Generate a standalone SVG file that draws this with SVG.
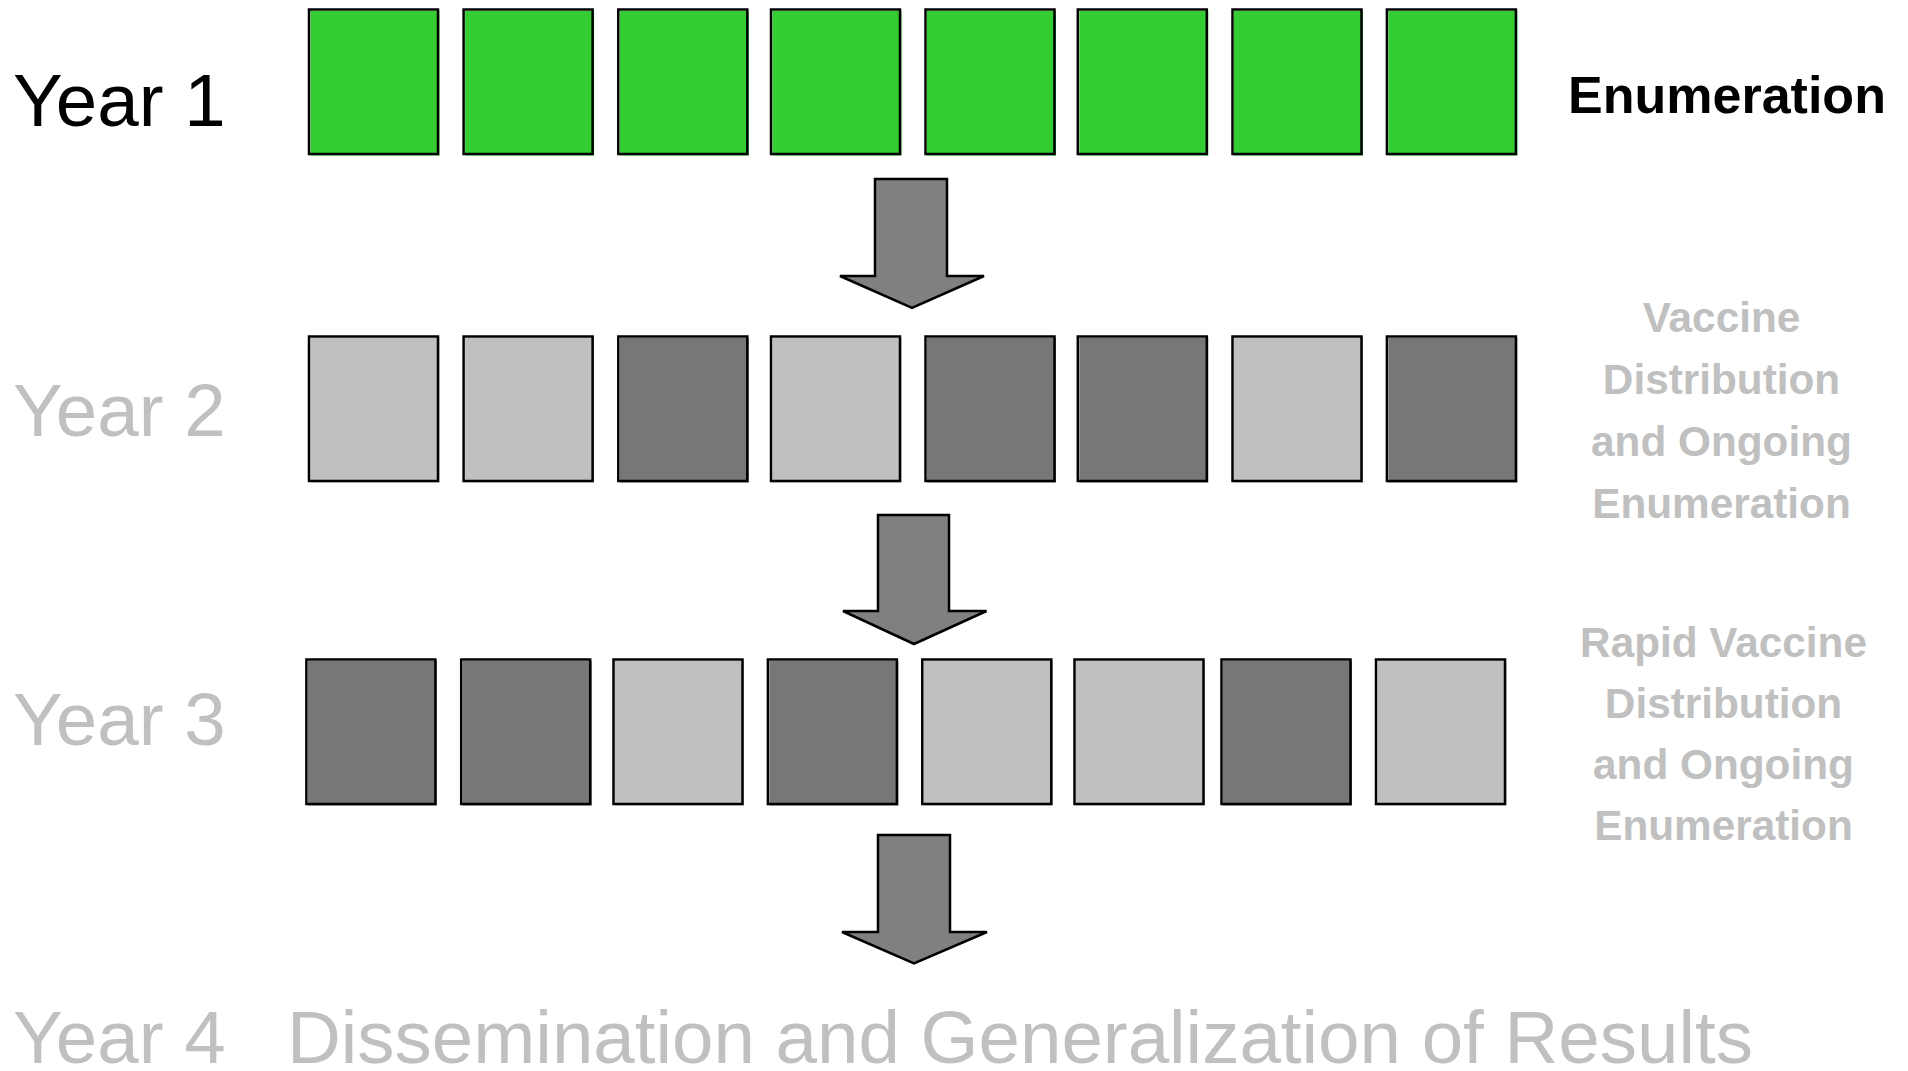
<svg xmlns="http://www.w3.org/2000/svg" width="1908" height="1071" viewBox="0 0 1908 1071">
  <style>
    .year { font-family: "Liberation Sans", Arial, sans-serif; font-size: 74.5px; }
    .note { font-family: "Liberation Sans", Arial, sans-serif; font-weight: bold; font-size: 42.3px; fill: #C0C0C0; text-anchor: middle; }
    .dim { fill: #C0C0C0; }
    .fill-green { fill: #33CC33; }
    .fill-light { fill: #C0C0C0; }
    .fill-dark { fill: #777777; }
    .edge { fill: none; stroke: #000000; stroke-width: 2.5; }
    .arrow { fill: #808080; stroke: #000000; stroke-width: 2.5; stroke-linejoin: miter; }
  </style>
  <defs>
    <!-- one cell: fill sits slightly offset from its outline -->
    <rect id="cellFill" x="1.5" y="1.5" width="129" height="144.5"/>
    <rect id="cellEdge" x="0" y="0" width="129" height="144.5"/>
  </defs>

  <rect width="1908" height="1071" fill="#FFFFFF"/>

  <!-- Year labels -->
  <g id="label-year1"><text class="year" x="13" y="126" fill="#000000">Year 1</text></g>
  <g id="label-year2"><text class="year dim" x="13" y="436">Year 2</text></g>
  <g id="label-year3"><text class="year dim" x="13" y="745">Year 3</text></g>
  <g id="label-year4"><text class="year dim" x="13" y="1063">Year 4</text></g>

  <!-- Row 1: enumeration, all green -->
  <g id="row1">
    <g id="r1c1" transform="translate(309,9.5)"><use href="#cellFill" class="fill-green"/><use href="#cellEdge" class="edge"/></g>
    <g id="r1c2" transform="translate(463.6,9.5)"><use href="#cellFill" class="fill-green"/><use href="#cellEdge" class="edge"/></g>
    <g id="r1c3" transform="translate(618.3,9.5)"><use href="#cellFill" class="fill-green"/><use href="#cellEdge" class="edge"/></g>
    <g id="r1c4" transform="translate(771,9.5)"><use href="#cellFill" class="fill-green"/><use href="#cellEdge" class="edge"/></g>
    <g id="r1c5" transform="translate(925.5,9.5)"><use href="#cellFill" class="fill-green"/><use href="#cellEdge" class="edge"/></g>
    <g id="r1c6" transform="translate(1077.8,9.5)"><use href="#cellFill" class="fill-green"/><use href="#cellEdge" class="edge"/></g>
    <g id="r1c7" transform="translate(1232.5,9.5)"><use href="#cellFill" class="fill-green"/><use href="#cellEdge" class="edge"/></g>
    <g id="r1c8" transform="translate(1386.9,9.5)"><use href="#cellFill" class="fill-green"/><use href="#cellEdge" class="edge"/></g>
  </g>

  <!-- Row 2 -->
  <g id="row2">
    <g id="r2c1" transform="translate(309,336.5)"><use href="#cellFill" class="fill-light"/><use href="#cellEdge" class="edge"/></g>
    <g id="r2c2" transform="translate(463.6,336.5)"><use href="#cellFill" class="fill-light"/><use href="#cellEdge" class="edge"/></g>
    <g id="r2c3" transform="translate(618.3,336.5)"><use href="#cellFill" class="fill-dark"/><use href="#cellEdge" class="edge"/></g>
    <g id="r2c4" transform="translate(771,336.5)"><use href="#cellFill" class="fill-light"/><use href="#cellEdge" class="edge"/></g>
    <g id="r2c5" transform="translate(925.5,336.5)"><use href="#cellFill" class="fill-dark"/><use href="#cellEdge" class="edge"/></g>
    <g id="r2c6" transform="translate(1077.8,336.5)"><use href="#cellFill" class="fill-dark"/><use href="#cellEdge" class="edge"/></g>
    <g id="r2c7" transform="translate(1232.5,336.5)"><use href="#cellFill" class="fill-light"/><use href="#cellEdge" class="edge"/></g>
    <g id="r2c8" transform="translate(1386.9,336.5)"><use href="#cellFill" class="fill-dark"/><use href="#cellEdge" class="edge"/></g>
  </g>

  <!-- Row 3 -->
  <g id="row3">
    <g id="r3c1" transform="translate(306.4,659.5)"><use href="#cellFill" class="fill-dark"/><use href="#cellEdge" class="edge"/></g>
    <g id="r3c2" transform="translate(461.2,659.5)"><use href="#cellFill" class="fill-dark"/><use href="#cellEdge" class="edge"/></g>
    <g id="r3c3" transform="translate(613.5,659.5)"><use href="#cellFill" class="fill-light"/><use href="#cellEdge" class="edge"/></g>
    <g id="r3c4" transform="translate(767.9,659.5)"><use href="#cellFill" class="fill-dark"/><use href="#cellEdge" class="edge"/></g>
    <g id="r3c5" transform="translate(922.3,659.5)"><use href="#cellFill" class="fill-light"/><use href="#cellEdge" class="edge"/></g>
    <g id="r3c6" transform="translate(1074.5,659.5)"><use href="#cellFill" class="fill-light"/><use href="#cellEdge" class="edge"/></g>
    <g id="r3c7" transform="translate(1221.5,659.5)"><use href="#cellFill" class="fill-dark"/><use href="#cellEdge" class="edge"/></g>
    <g id="r3c8" transform="translate(1376,659.5)"><use href="#cellFill" class="fill-light"/><use href="#cellEdge" class="edge"/></g>
  </g>

  <!-- Block arrows between years -->
  <g id="connectors">
    <polygon class="arrow" points="875,179 947,179 947,276 984,276 912,308 840,276 875,276"/>
    <polygon class="arrow" points="878,515 949,515 949,611 986.5,611 914,644 843,611 878,611"/>
    <polygon class="arrow" points="878,835 950,835 950,932 987,932 914,963.5 842,932 878,932"/>
  </g>

  <!-- Phase descriptions -->
  <g id="label-enumeration">
    <text x="1727" y="113" text-anchor="middle" font-family="Liberation Sans, Arial, sans-serif" font-weight="bold" font-size="52" fill="#000000">Enumeration</text>
  </g>
  <g id="label-vaccine">
    <text class="note" x="1721.5" y="332">Vaccine</text>
    <text class="note" x="1721.5" y="394">Distribution</text>
    <text class="note" x="1721.5" y="456">and Ongoing</text>
    <text class="note" x="1721.5" y="518">Enumeration</text>
  </g>
  <g id="label-rapid">
    <text class="note" x="1723.5" y="657">Rapid Vaccine</text>
    <text class="note" x="1723.5" y="718">Distribution</text>
    <text class="note" x="1723.5" y="779">and Ongoing</text>
    <text class="note" x="1723.5" y="840">Enumeration</text>
  </g>
  <g id="label-dissemination">
    <text class="year dim" x="287" y="1063">Dissemination and Generalization of Results</text>
  </g>
</svg>
